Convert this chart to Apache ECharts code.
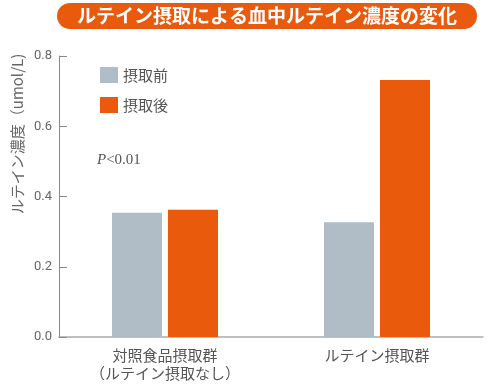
<!DOCTYPE html>
<html><head><meta charset="utf-8">
<script src="https://cdn.jsdelivr.net/npm/echarts@6/dist/echarts.min.js"></script>
<style>html,body{margin:0;padding:0;background:#fff}#c{width:500px;height:385px}</style>
</head><body><div id="c"></div>
<script>
const categories = ['対照食品摂取群\n（ルテイン摂取なし）', 'ルテイン摂取群'];
const seriesNames = ['摂取前', '摂取後'];
const beforeValues = [0.354, 0.327];
const afterValues = [0.362, 0.732];
const yTicks = [0, 0.2, 0.4, 0.6, 0.8];
const titleText = 'ルテイン摂取による血中ルテイン濃度の変化';
const yName = 'ルテイン濃度（umol/L)';
const note = 'P<0.01';

const GREY = '#b1bdc6', ORANGE = '#ea5a0c';
const FONT = '"Noto Sans CJK JP", "Noto Sans", sans-serif';
const chart = echarts.init(document.getElementById('c'), null, {renderer: 'canvas'});
chart.setOption({
  animation: false,
  textStyle: {fontFamily: FONT},
  grid: {left: 59, right: 17, top: 56, bottom: 48},
  legend: {
    orient: 'vertical', left: 100, top: 67, padding: 0, itemWidth: 18, itemHeight: 16, itemGap: 14,
    icon: 'rect', data: seriesNames,
    textStyle: {fontSize: 15, color: '#555', fontFamily: FONT}
  },
  xAxis: {
    type: 'category', data: categories,
    axisLine: {lineStyle: {color: '#aaa', width: 1.5}},
    axisTick: {inside: true, length: 6, lineStyle: {color: '#aaa'}},
    axisLabel: {fontSize: 15, color: '#555', lineHeight: 18, margin: 9, fontFamily: FONT}
  },
  yAxis: {
    type: 'value', min: 0, max: 0.8, interval: 0.2,
    axisLine: {show: true, lineStyle: {color: '#888'}},
    axisTick: {show: true, inside: true, length: 8, lineStyle: {color: '#888'}},
    splitLine: {show: false},
    axisLabel: {fontSize: 13, color: '#666', margin: 7, fontFamily: 'Roboto, sans-serif',
      formatter: v => yTicks.some(t => Math.abs(t - v) < 1e-9) ? v.toFixed(1) : ''}
  },
  series: [
    {name: seriesNames[0], type: 'bar', data: beforeValues, barWidth: 50, barGap: '12%',
     itemStyle: {color: GREY}},
    {name: seriesNames[1], type: 'bar', data: afterValues, barWidth: 50, barGap: '12%',
     itemStyle: {color: ORANGE}}
  ],
  graphic: [
    {type: 'rect', shape: {x: 57, y: 3, width: 420, height: 26, r: 13}, style: {fill: ORANGE}},
    {type: 'text', x: 267, y: 16, style: {text: titleText, fill: '#fff', font: 'bold 19px ' + FONT,
      textAlign: 'center', textVerticalAlign: 'middle'}},
    {type: 'text', x: 17, y: 134, rotation: Math.PI / 2,
      style: {text: yName, fill: '#666', font: '15px ' + FONT, textAlign: 'center', textVerticalAlign: 'middle'}},
    {type: 'text', x: 97, y: 160,
      style: {text: '{i|P}{n|<0.01}', textVerticalAlign: 'middle',
        rich: {i: {fontStyle: 'italic', fontSize: 15, fontFamily: '"Liberation Serif", serif', fill: '#555'},
               n: {fontSize: 15, fontFamily: '"Liberation Serif", serif', fill: '#555'}}}}
  ]
});
</script></body></html>
